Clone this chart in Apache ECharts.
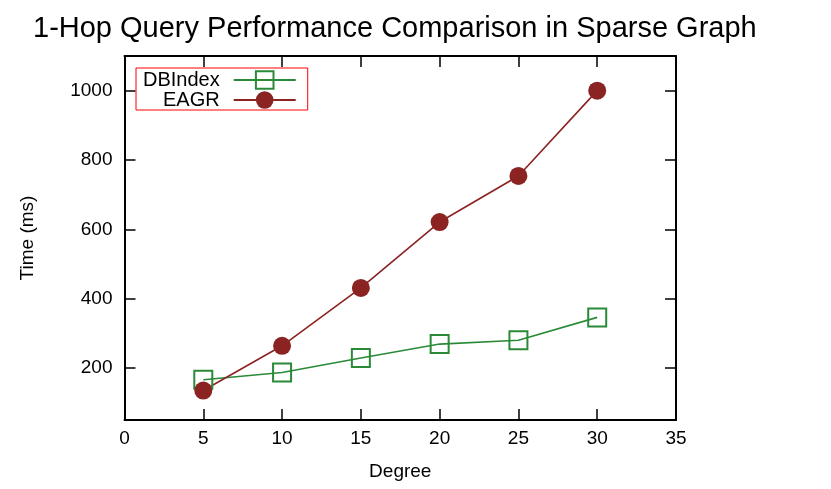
<!DOCTYPE html>
<html>
<head>
<meta charset="utf-8">
<script src="https://cdn.jsdelivr.net/npm/echarts@6/dist/echarts.min.js"></script>
<style>
  html, body { margin: 0; padding: 0; background: #fff; }
  #chart { width: 831px; height: 489px; }
</style>
</head>
<body>
<div id="chart"></div>
<script>
const degrees = [5, 10, 15, 20, 25, 30];
const dbIndex = [166, 187, 229, 269, 280, 346];
const eagr = [135, 264, 431, 621, 754, 1000];
const yTicks = [200, 400, 600, 800, 1000];

const green = "#2a8a38";
const red = "#8b2323";
const font = "Liberation Sans, Arial, Helvetica, sans-serif";

const chartDom = document.getElementById("chart");
const myChart = echarts.init(chartDom);

function pairs(xs, ys) {
  return xs.map(function (x, i) {
    return [x, ys[i]];
  });
}

const option = {
  animation: false,
  backgroundColor: "#fff",
  textStyle: { fontFamily: font },
  title: {
    text: "1-Hop Query Performance Comparison in Sparse Graph",
    left: 28,
    top: 9,
    textStyle: { fontSize: 29, fontWeight: "normal", color: "#000", fontFamily: font },
  },
  grid: {
    left: 124.5,
    right: 155,
    top: 56,
    bottom: 69,
  },
  legend: {
    orient: "vertical",
    align: "right",
    left: 136,
    top: 68,
    itemWidth: 62,
    itemHeight: 22,
    itemGap: 0,
    padding: [2, 11, 0, 7],
    borderColor: "#ff0000",
    borderWidth: 1,
    textStyle: { fontSize: 20, color: "#000", padding: [0, 9, 0, 0], fontFamily: font },
    data: ["DBIndex", "EAGR"],
  },
  xAxis: [
    {
      type: "value",
      min: 0,
      max: 35,
      interval: 5,
      name: "Degree",
      nameLocation: "middle",
      nameGap: 42,
      nameTextStyle: { fontSize: 19, color: "#000" },
      axisLine: { onZero: false, lineStyle: { color: "#000", width: 2 } },
      axisTick: { inside: true, length: 11, lineStyle: { color: "#000", width: 1.5 } },
      axisLabel: { fontSize: 19, color: "#000", margin: 9 },
      splitLine: { show: false },
    },
    {
      type: "value",
      position: "top",
      min: 0,
      max: 35,
      interval: 5,
      axisLine: { onZero: false, lineStyle: { color: "#000", width: 2 } },
      axisTick: { inside: true, length: 11, lineStyle: { color: "#000", width: 1.5 } },
      axisLabel: { show: false },
      splitLine: { show: false },
    },
  ],
  yAxis: [
    {
      type: "value",
      min: 50,
      max: 1100,
      name: "Time (ms)",
      nameLocation: "middle",
      nameGap: 87,
      nameTextStyle: { fontSize: 19, color: "#000" },
      axisLine: { show: true, onZero: false, lineStyle: { color: "#000", width: 2 } },
      axisTick: { show: true, inside: true, length: 11, customValues: yTicks, lineStyle: { color: "#000", width: 1.5 } },
      axisLabel: {
        fontSize: 19,
        color: "#000",
        margin: 12,
        customValues: yTicks,
        formatter: function (v) {
          return String(v);
        },
      },
      splitLine: { show: false },
    },
    {
      type: "value",
      position: "right",
      min: 50,
      max: 1100,
      axisLine: { show: true, onZero: false, lineStyle: { color: "#000", width: 2 } },
      axisTick: { show: true, inside: true, length: 11, customValues: yTicks, lineStyle: { color: "#000", width: 1.5 } },
      axisLabel: { show: false },
      splitLine: { show: false },
    },
  ],
  series: [
    {
      name: "DBIndex",
      type: "line",
      data: pairs(degrees, dbIndex),
      symbol: "rect",
      symbolSize: 18,
      itemStyle: { color: "rgba(0,0,0,0)", borderColor: green, borderWidth: 2 },
      lineStyle: { color: green, width: 1.6 },
    },
    {
      name: "EAGR",
      type: "line",
      data: pairs(degrees, eagr),
      symbol: "circle",
      symbolSize: 18,
      itemStyle: { color: red, borderWidth: 0 },
      lineStyle: { color: red, width: 1.6 },
    },
  ],
};

myChart.setOption(option);
window.onresize = function () {
  myChart.resize();
};
</script>
</body>
</html>
